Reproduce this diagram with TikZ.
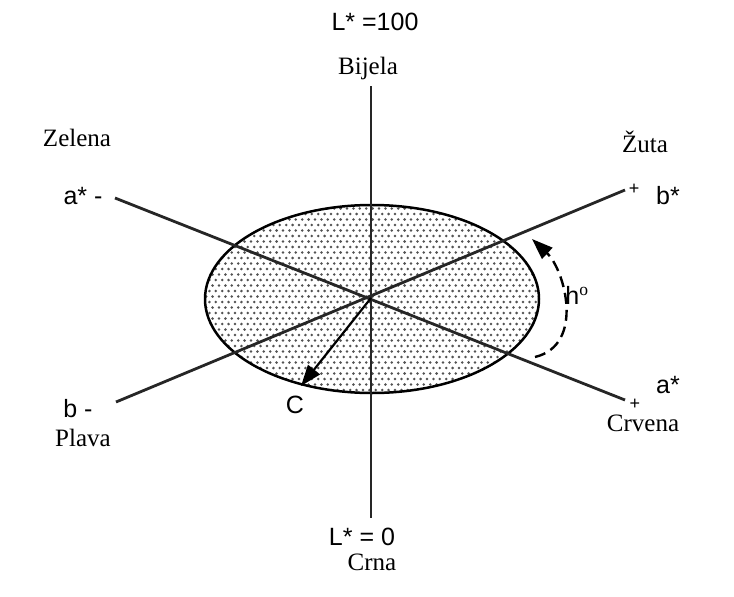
\documentclass[tikz,border=0pt]{standalone}
\usepackage{fontspec}
\setmainfont{Liberation Serif}
\newfontfamily\axfont{Liberation Sans}
\usetikzlibrary{arrows.meta}
\begin{document}
\begin{tikzpicture}[x=1pt,y=-1pt,
  axis/.style={line width=2.8pt, black!85},
  tip/.style={-{Triangle[length=21pt,width=15pt]}},
  serif/.style={font=\fontsize{25}{25}\selectfont, inner sep=0pt},
  sans/.style={font=\axfont\fontsize{25}{25}\selectfont, inner sep=0pt},
  small/.style={font=\axfont\fontsize{18}{18}\selectfont, inner sep=0pt}]
\useasboundingbox (0,0) rectangle (734,597);
\coordinate (O) at (371,298);
\coordinate (Ltop) at (371,86);
\coordinate (Lbot) at (371,518);
\coordinate (aneg) at (115,198);
\coordinate (apos) at (625,400);
\coordinate (bneg) at (116,402);
\coordinate (bpos) at (625,190);
\coordinate (Ctip) at (301,386);
\coordinate (hs) at (535,357);
\coordinate (he) at (532,239);
% ellipse fill with dots
\fill[white] (372,299) ellipse [x radius=167, y radius=94];
\begin{scope}
\clip (372,299) ellipse [x radius=167, y radius=94];
\foreach \j in {0,...,35}{
  \foreach \i in {0,...,53}{
    \fill[black!68] ({203+\i*6.4+mod(\j,2)*3.2},{203+\j*5.5}) circle (1.4);
  }
}
\end{scope}
\draw[line width=2.5pt] (372,299) ellipse [x radius=167, y radius=94];
% axes
\draw[axis] (Ltop) -- (Lbot);
\draw[axis] (aneg) -- (apos);
\draw[axis] (bneg) -- (bpos);
\draw[line width=2.2pt, tip] (O) -- (Ctip);
\draw[line width=2.4pt, dash pattern=on 11pt off 6pt, tip]
  (hs) .. controls (585,345) and (565,270) .. (he);
% labels
\node[sans] (ltop) at (375,22) {L* =100};
\node[serif] (bijela) at (368,68) {Bijela};
\node[serif] (zelena) at (77,138) {Zelena};
\node[sans] (am) at (83,196) {a* -};
\node[serif] (zuta) at (645,142) {Žuta};
\node[small] (bp) at (634,189) {+};
\node[sans] (bs) at (668,196) {b*};
\node[sans] (bm) at (78,409) {b -};
\node[serif] (plava) at (83,438) {Plava};
\node[small] (ap) at (635,404) {+};
\node[sans] (as) at (668,385) {a*};
\node[serif] (crvena) at (643,423) {Crvena};
\node[sans] (lbot) at (362,537) {L* = 0};
\node[serif] (crna) at (372,562) {Crna};
\node[sans] (c) at (295,405) {C};
\node[sans] (h) at (577,295) {h$^{\mathrm{o}}$};
\end{tikzpicture}
\end{document}
